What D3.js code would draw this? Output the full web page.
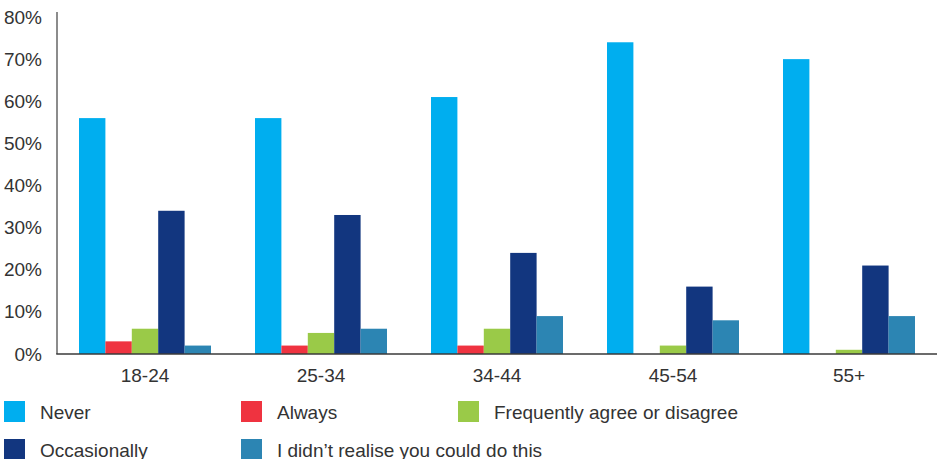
<!DOCTYPE html>
<html>
<head>
<meta charset="utf-8">
<script src="https://cdn.jsdelivr.net/npm/d3@7"></script>
<style>
  html, body { margin: 0; padding: 0; background: #fff; }
  svg { display: block; font-family: "Liberation Sans", Arial, Helvetica, sans-serif; }
</style>
</head>
<body>
<svg id="chart" width="938" height="459"></svg>
<script>
// Age groups along the x axis
const ageGroups = ["18-24", "25-34", "34-44", "45-54", "55+"];

// Response series, in the order they are drawn within each group
const seriesNames = [
  "Never",
  "Always",
  "Frequently agree or disagree",
  "Occasionally",
  "I didn\u2019t realise you could do this"
];
const seriesColors = ["#00aeef", "#ef3340", "#9aca48", "#12367f", "#2c85b3"];

// Percentages per series, one value per age group
const neverValues        = [56, 56, 61, 74, 70];
const alwaysValues       = [3, 2, 2, 0, 0];
const frequentlyValues   = [6, 5, 6, 2, 1];
const occasionallyValues = [34, 33, 24, 16, 21];
const didntRealiseValues = [2, 6, 9, 8, 9];

// Y axis ticks
const yTicks = [0, 10, 20, 30, 40, 50, 60, 70, 80];

const seriesValues = [neverValues, alwaysValues, frequentlyValues, occasionallyValues, didntRealiseValues];

const svg = d3.select("#chart");
const textColor = "#333";
const fontSize = "19px";
const fontFamily = "'Liberation Sans', Arial, Helvetica, sans-serif";

const plotLeft = 57, plotRight = 937, plotBottom = 354, plotTop = 17;

const x0 = d3.scaleBand()
  .domain(ageGroups)
  .range([plotLeft, plotRight])
  .paddingInner(0.25)
  .paddingOuter(0.125);

const x1 = d3.scaleBand()
  .domain(d3.range(seriesNames.length))
  .range([0, x0.bandwidth()]);

const y = d3.scaleLinear()
  .domain([0, 80])
  .range([plotBottom, plotTop]);

// Bars
const groups = svg.append("g")
  .selectAll("g")
  .data(ageGroups)
  .join("g")
  .attr("transform", d => `translate(${x0(d)},0)`);

groups.selectAll("rect")
  .data((d, gi) => seriesValues.map((vals, si) => ({ si, v: vals[gi] })))
  .join("rect")
  .attr("x", d => x1(d.si))
  .attr("width", x1.bandwidth())
  .attr("y", d => y(d.v))
  .attr("height", d => y(0) - y(d.v))
  .attr("fill", d => seriesColors[d.si]);

// Y axis: labels only, plus a vertical rule
const yAxis = d3.axisLeft(y)
  .tickValues(yTicks)
  .tickFormat(d => d + "%")
  .tickSize(0)
  .tickPadding(15);

const yg = svg.append("g")
  .attr("transform", `translate(${plotLeft},0)`)
  .call(yAxis);
yg.select(".domain").remove();
yg.selectAll("text")
  .attr("fill", textColor)
  .style("font-size", fontSize)
  .style("font-family", fontFamily);

svg.append("line")
  .attr("x1", plotLeft).attr("x2", plotLeft)
  .attr("y1", 12).attr("y2", plotBottom)
  .attr("stroke", "#666")
  .attr("stroke-width", 1.5);

// X axis: baseline with category labels
const xAxis = d3.axisBottom(x0)
  .tickSize(0)
  .tickPadding(15);

const xg = svg.append("g")
  .attr("transform", `translate(0,${plotBottom})`)
  .call(xAxis);
xg.select(".domain").remove();
xg.selectAll("text")
  .attr("fill", textColor)
  .style("font-size", fontSize)
  .style("font-family", fontFamily);

svg.append("line")
  .attr("x1", plotLeft - 0.75).attr("x2", plotRight)
  .attr("y1", plotBottom).attr("y2", plotBottom)
  .attr("stroke", "#3a3a3a")
  .attr("stroke-width", 1.6);

// Legend: three columns, two rows
const legendCols = [4, 241, 458];
const legendRows = [401, 439];
const legend = svg.append("g")
  .selectAll("g")
  .data(seriesNames)
  .join("g")
  .attr("transform", (d, i) => `translate(${legendCols[i % 3]},${legendRows[Math.floor(i / 3)]})`);

legend.append("rect")
  .attr("width", 21)
  .attr("height", 21)
  .attr("fill", (d, i) => seriesColors[i]);

legend.append("text")
  .attr("x", 36)
  .attr("y", 17.5)
  .attr("fill", textColor)
  .style("font-size", fontSize)
  .style("font-family", fontFamily)
  .text(d => d);
</script>
</body>
</html>
